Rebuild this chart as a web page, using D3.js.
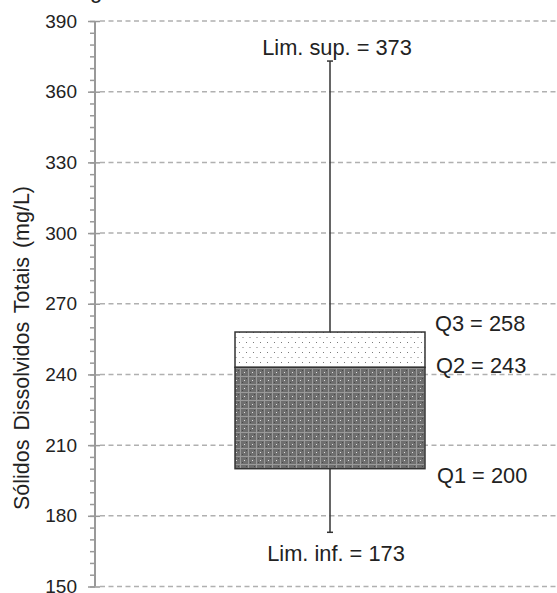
<!DOCTYPE html>
<html>
<head>
<meta charset="utf-8">
<script src="https://cdn.jsdelivr.net/npm/d3@7"></script>
<style>
  html, body { margin: 0; padding: 0; background: #fff; }
  svg { display: block; }
  text { font-family: "Liberation Sans", Arial, Helvetica, sans-serif; fill: #222; }
</style>
</head>
<body>
<svg id="chart" width="557" height="593"></svg>
<script>
// Box-plot summary of total dissolved solids
const categories = ["Sólidos Dissolvidos Totais"];
const limInf = [173];
const q1 = [200];
const q2 = [243];
const q3 = [258];
const limSup = [373];
const yTicks = [150, 180, 210, 240, 270, 300, 330, 360, 390];
const yMinorTicks = d3.range(150, 391, 5);

const svg = d3.select("#chart");
const width = 557, height = 593;

const y = d3.scaleLinear().domain([150, 390]).range([586.5, 21]);
const x = d3.scaleBand().domain(categories).range([95, 565]).paddingInner(0).paddingOuter(0.737);

// fill patterns
const defs = svg.append("defs");
const pDots = defs.append("pattern").attr("id", "dots")
  .attr("patternUnits", "userSpaceOnUse").attr("width", 7).attr("height", 10);
pDots.append("rect").attr("width", 7).attr("height", 10).attr("fill", "#fff");
pDots.append("rect").attr("x", 1).attr("y", 2).attr("width", 1).attr("height", 1).attr("fill", "#7a7a7a");
pDots.append("rect").attr("x", 4.5).attr("y", 7).attr("width", 1).attr("height", 1).attr("fill", "#7a7a7a");

const pWeave = defs.append("pattern").attr("id", "weave")
  .attr("patternUnits", "userSpaceOnUse").attr("width", 8).attr("height", 8);
pWeave.append("rect").attr("width", 8).attr("height", 8).attr("fill", "#6e6e6e");
pWeave.append("rect").attr("x", 0).attr("y", 0).attr("width", 8).attr("height", 1).attr("fill", "#9a9a9a");
pWeave.append("rect").attr("x", 0).attr("y", 0).attr("width", 1).attr("height", 8).attr("fill", "#9a9a9a");
pWeave.append("rect").attr("x", 4).attr("y", 4).attr("width", 1).attr("height", 1).attr("fill", "#e0e0e0");
pWeave.append("rect").attr("x", 2).attr("y", 6).attr("width", 1).attr("height", 1).attr("fill", "#4a4a4a");
pWeave.append("rect").attr("x", 6).attr("y", 2).attr("width", 1).attr("height", 1).attr("fill", "#4a4a4a");

// title fragment at the top edge
svg.append("text").attr("x", 90).attr("y", -2).attr("font-size", 22).text("g");

// dashed gridlines
svg.append("g").selectAll("line").data(yTicks).join("line")
  .attr("x1", 100).attr("x2", width)
  .attr("y1", d => y(d)).attr("y2", d => y(d))
  .attr("stroke", "#b0b0b0").attr("stroke-width", 1.5)
  .attr("stroke-dasharray", "5,3.5");

// y axis with minor ticks
const axisG = svg.append("g").attr("transform", "translate(95,0)");
axisG.call(d3.axisLeft(y).tickValues(yMinorTicks).tickSize(5).tickFormat(""))
  .call(g => g.select(".domain").remove())
  .call(g => g.selectAll("line").attr("stroke", "#999").attr("stroke-width", 1.5));
const majorG = svg.append("g").attr("transform", "translate(95,0)");
majorG.call(d3.axisLeft(y).tickValues(yTicks).tickSize(7).tickPadding(11).tickFormat(d3.format("d")))
  .call(g => g.select(".domain").remove())
  .call(g => g.selectAll("line").attr("stroke", "#999").attr("stroke-width", 1.5).attr("x2", 5).attr("x1", -7))
  .call(g => g.selectAll("text").attr("font-size", 19).attr("fill", "#222")
    .attr("font-family", "'Liberation Sans', Arial, sans-serif"));
svg.append("line").attr("x1", 95).attr("x2", 95).attr("y1", y(390)).attr("y2", y(150))
  .attr("stroke", "#999").attr("stroke-width", 2);

// axis title
svg.append("text")
  .attr("transform", "translate(29,348) rotate(-90)")
  .attr("text-anchor", "middle").attr("font-size", 21.5).attr("word-spacing", 3)
  .text("Sólidos Dissolvidos Totais (mg/L)");

// box plot
const data = categories.map((c, i) => ({
  c, lo: limInf[i], q1: q1[i], q2: q2[i], q3: q3[i], hi: limSup[i]
}));
const g = svg.append("g");
data.forEach(d => {
  const x0 = x(d.c), bw = x.bandwidth(), cx = x0 + bw / 2;
  // whiskers
  g.append("line").attr("x1", cx).attr("x2", cx).attr("y1", y(d.hi)).attr("y2", y(d.q3))
    .attr("stroke", "#333").attr("stroke-width", 1.5);
  g.append("line").attr("x1", cx).attr("x2", cx).attr("y1", y(d.q1)).attr("y2", y(d.lo))
    .attr("stroke", "#333").attr("stroke-width", 1.5);
  [d.hi, d.lo].forEach(v => g.append("line")
    .attr("x1", cx - 3).attr("x2", cx + 3).attr("y1", y(v)).attr("y2", y(v))
    .attr("stroke", "#333").attr("stroke-width", 1.5));
  // boxes
  g.append("rect").attr("x", x0).attr("width", bw)
    .attr("y", y(d.q3)).attr("height", y(d.q2) - y(d.q3))
    .attr("fill", "url(#dots)").attr("stroke", "#333").attr("stroke-width", 1.5);
  g.append("rect").attr("x", x0).attr("width", bw)
    .attr("y", y(d.q2)).attr("height", y(d.q1) - y(d.q2))
    .attr("fill", "url(#weave)").attr("stroke", "#333").attr("stroke-width", 1.5);

  // value labels
  const fs = 21.8;
  g.append("text").attr("x", cx + 7).attr("y", y(d.hi) - 6).attr("text-anchor", "middle")
    .attr("font-size", fs).text(`Lim. sup. = ${d.hi}`);
  g.append("text").attr("x", cx + 6).attr("y", y(d.lo) + 29).attr("text-anchor", "middle")
    .attr("font-size", fs).text(`Lim. inf. = ${d.lo}`);
  const lx = x0 + bw + 10;
  g.append("text").attr("x", lx).attr("y", y(d.q3) - 1.5).attr("font-size", fs).text(`Q3 = ${d.q3}`);
  g.append("text").attr("x", lx + 1).attr("y", y(d.q2) + 6).attr("font-size", fs).text(`Q2 = ${d.q2}`);
  g.append("text").attr("x", lx + 2).attr("y", y(d.q1) + 14).attr("font-size", fs).text(`Q1 = ${d.q1}`);
});
</script>
</body>
</html>
